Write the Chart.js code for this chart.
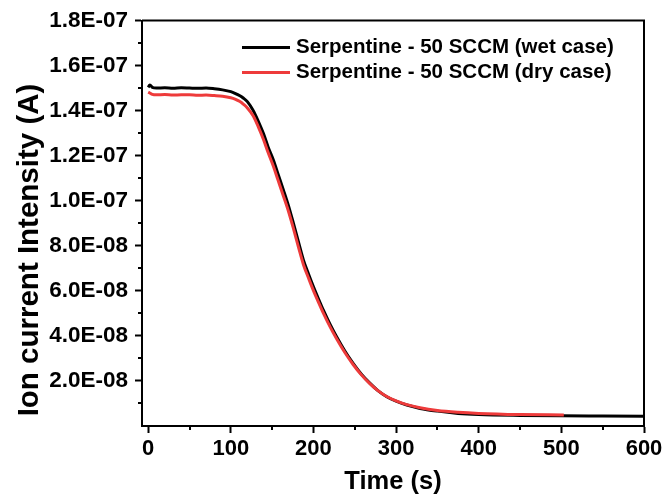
<!DOCTYPE html>
<html>
<head>
<meta charset="utf-8">
<title>Ion current vs time</title>
<script src="https://cdn.jsdelivr.net/npm/chart.js@4.4.1/dist/chart.umd.min.js"></script>
<style>
  html, body { margin: 0; padding: 0; background: #ffffff; }
  #wrap { width: 667px; height: 501px; }
</style>
</head>
<body>
<div id="wrap"><canvas id="chart" width="667" height="501"></canvas></div>
<script>
const FONT = "'Liberation Sans', Arial, Helvetica, sans-serif";

// Wet case: time (s) and ion current (A)
const timeWet = [0, 2, 5, 10, 20, 30, 40, 50, 60, 70, 80, 90, 100, 105, 111, 115, 120, 127, 133, 139.5, 145,
  151.6, 157, 163.7, 170, 175.8, 182, 187.9, 194, 200, 206, 212, 220, 228, 238, 248, 258, 268.5,
  278, 288.7, 300, 313, 329, 350, 375, 400, 450, 500, 550, 600];
const currentWet = [1.503e-7, 1.514e-7, 1.503e-7, 1.500e-7, 1.501e-7, 1.499e-7, 1.501e-7, 1.500e-7,
  1.499e-7, 1.500e-7, 1.497e-7, 1.492e-7, 1.484e-7, 1.477e-7, 1.466e-7, 1.456e-7, 1.440e-7, 1.401e-7,
  1.355e-7, 1.298e-7, 1.240e-7, 1.180e-7, 1.120e-7, 1.047e-7, 0.975e-7, 0.899e-7, 0.815e-7, 0.736e-7,
  0.675e-7, 0.618e-7, 0.565e-7, 0.514e-7, 0.452e-7, 0.396e-7, 0.333e-7, 0.278e-7, 0.230e-7, 0.189e-7,
  0.157e-7, 0.130e-7, 0.110e-7, 0.093e-7, 0.078e-7, 0.066e-7, 0.056e-7, 0.051e-7, 0.047e-7, 0.045e-7,
  0.044e-7, 0.043e-7];

// Dry case: time (s) and ion current (A)
const timeDry = [0, 2, 5, 10, 20, 30, 40, 50, 60, 70, 80, 90, 100, 105, 111, 115, 120, 127, 133, 139.5, 145,
  151.6, 157, 163.7, 170, 175.8, 182, 187.9, 194, 200, 206, 212, 220, 228, 238, 248, 258, 268.5,
  278, 288.7, 300, 313, 329, 350, 375, 400, 450, 503];
const currentDry = [1.482e-7, 1.478e-7, 1.472e-7, 1.470e-7, 1.471e-7, 1.469e-7, 1.470e-7, 1.470e-7,
  1.468e-7, 1.469e-7, 1.467e-7, 1.464e-7, 1.457e-7, 1.451e-7, 1.440e-7, 1.429e-7, 1.412e-7, 1.377e-7,
  1.330e-7, 1.272e-7, 1.215e-7, 1.152e-7, 1.093e-7, 1.020e-7, 0.950e-7, 0.876e-7, 0.792e-7, 0.716e-7,
  0.657e-7, 0.601e-7, 0.550e-7, 0.501e-7, 0.441e-7, 0.387e-7, 0.326e-7, 0.273e-7, 0.227e-7, 0.187e-7,
  0.157e-7, 0.131e-7, 0.112e-7, 0.095e-7, 0.081e-7, 0.069e-7, 0.061e-7, 0.056e-7, 0.051e-7, 0.049e-7];

const seriesNames = ['Serpentine - 50 SCCM (wet case)', 'Serpentine - 50 SCCM (dry case)'];
const seriesColors = ['#000000', '#ee3b3b'];

const xTicks = [0, 100, 200, 300, 400, 500, 600];
const xMinorTicks = [50, 150, 250, 350, 450, 550];
const yTicks = [0, 2e-8, 4e-8, 6e-8, 8e-8, 1e-7, 1.2e-7, 1.4e-7, 1.6e-7, 1.8e-7];
const yMinorTicks = [1e-8, 3e-8, 5e-8, 7e-8, 9e-8, 1.1e-7, 1.3e-7, 1.5e-7, 1.7e-7];

const xTitle = 'Time (s)';
const yTitle = 'Ion current Intensity (A)';

function toPoints(xs, ys) {
  return xs.map((x, i) => ({ x: x, y: ys[i] }));
}

// "1.8E-07" style labels
function sciLabel(v) {
  if (v === 0) return '';
  const parts = v.toExponential(1).split('e');
  const e = parseInt(parts[1], 10);
  return parts[0] + 'E' + (e < 0 ? '-' : '+') + String(Math.abs(e)).padStart(2, '0');
}

// Box frame, minor ticks, y title and the in-plot legend
const decorations = {
  id: 'decorations',
  afterDraw(chart) {
    const { ctx, chartArea: a, scales } = chart;
    ctx.save();
    ctx.strokeStyle = '#000';
    ctx.lineWidth = 2;
    ctx.beginPath();
    ctx.moveTo(a.left, a.top);
    ctx.lineTo(a.right, a.top);
    ctx.lineTo(a.right, a.bottom);
    ctx.stroke();

    ctx.beginPath();
    xMinorTicks.forEach(v => {
      const px = Math.round(scales.x.getPixelForValue(v));
      ctx.moveTo(px, a.bottom);
      ctx.lineTo(px, a.bottom + 4);
    });
    yMinorTicks.forEach(v => {
      const py = Math.round(scales.y.getPixelForValue(v));
      ctx.moveTo(a.left, py);
      ctx.lineTo(a.left - 4, py);
    });
    ctx.stroke();

    // y-axis title
    ctx.fillStyle = '#000';
    ctx.font = 'bold 29.5px ' + FONT;
    ctx.textAlign = 'center';
    ctx.textBaseline = 'middle';
    ctx.translate(30, 250);
    ctx.rotate(-Math.PI / 2);
    ctx.fillText(yTitle, 0, 0);
    ctx.restore();

    // legend
    ctx.save();
    ctx.font = 'bold 20.5px ' + FONT;
    ctx.textAlign = 'left';
    ctx.textBaseline = 'middle';
    const rows = [47.5, 72.5];
    seriesNames.forEach((name, i) => {
      ctx.strokeStyle = seriesColors[i];
      ctx.lineWidth = 3;
      ctx.beginPath();
      ctx.moveTo(242, rows[i]);
      ctx.lineTo(290, rows[i]);
      ctx.stroke();
      ctx.fillStyle = '#000';
      ctx.fillText(name, 296, rows[i]);
    });
    ctx.restore();
  }
};

new Chart(document.getElementById('chart'), {
  type: 'line',
  data: {
    datasets: [
      {
        label: seriesNames[0],
        data: toPoints(timeWet, currentWet),
        borderColor: seriesColors[0],
        order: 2
      },
      {
        label: seriesNames[1],
        data: toPoints(timeDry, currentDry),
        borderColor: seriesColors[1],
        order: 1
      }
    ]
  },
  options: {
    responsive: false,
    animation: false,
    devicePixelRatio: 1,
    parsing: false,
    layout: { padding: { top: 20, right: 23, bottom: 0, left: 0 } },
    plugins: { legend: { display: false }, tooltip: { enabled: false } },
    elements: {
      point: { radius: 0 },
      line: { borderWidth: 3, cubicInterpolationMode: 'monotone', fill: false }
    },
    scales: {
      x: {
        type: 'linear',
        min: -7.5,
        max: 600,
        afterBuildTicks: s => { s.ticks = xTicks.map(v => ({ value: v })); },
        afterFit: s => { s.height = 75; },
        grid: { drawOnChartArea: false, tickLength: 7, tickWidth: 2, tickColor: '#000' },
        border: { display: true, color: '#000', width: 2 },
        ticks: {
          color: '#000', padding: 3, maxRotation: 0, autoSkip: false,
          font: { family: FONT, size: 22, weight: 'bold' },
          callback: v => String(v)
        },
        title: {
          display: true, text: xTitle, color: '#000',
          font: { family: FONT, size: 25.5, weight: 'bold' },
          padding: { top: 0, bottom: 4 }
        }
      },
      y: {
        type: 'linear',
        min: 0,
        max: 1.8e-7,
        afterBuildTicks: s => { s.ticks = yTicks.map(v => ({ value: v })); },
        afterFit: s => { s.width = 142; },
        grid: {
          drawOnChartArea: false, tickLength: 7, tickWidth: 2,
          tickColor: c => (c.tick && c.tick.value === 0 ? 'rgba(0,0,0,0)' : '#000')
        },
        border: { display: true, color: '#000', width: 2 },
        ticks: {
          color: '#000', padding: 7, autoSkip: false,
          font: { family: FONT, size: 22.5, weight: 'bold' },
          callback: v => sciLabel(v)
        },
        title: { display: false }
      }
    }
  },
  plugins: [decorations]
});
</script>
</body>
</html>
